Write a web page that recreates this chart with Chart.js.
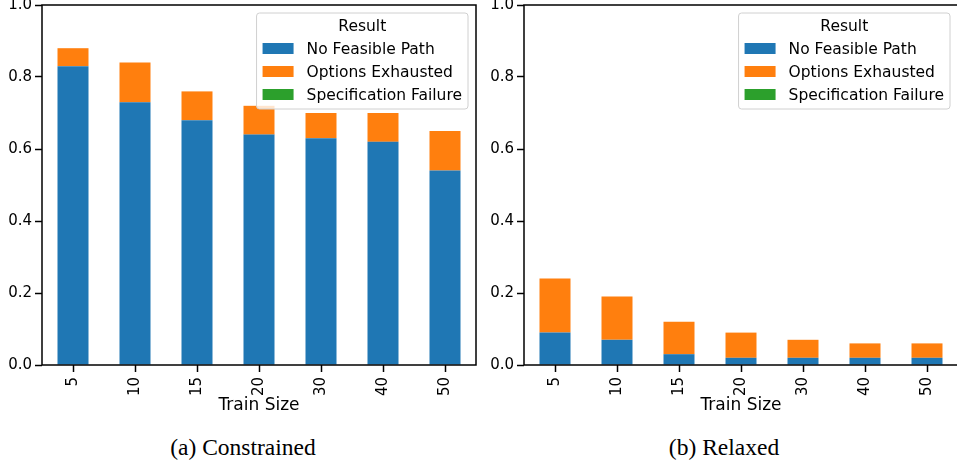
<!DOCTYPE html>
<html>
<head>
<meta charset="utf-8">
<script src="https://cdn.jsdelivr.net/npm/chart.js@4.4.1/dist/chart.umd.min.js"></script>
<style>
  html, body { margin: 0; padding: 0; background: #fff; overflow: hidden; }
  body { width: 957px; height: 463px; position: relative; }
  .panel { position: absolute; top: 0; }
  .caption {
    position: absolute; top: 433px; width: 300px; text-align: center;
    font-family: "Liberation Serif", "Times New Roman", serif; font-size: 23.5px; color: #000;
    line-height: 28px;
  }
</style>
</head>
<body>
<div class="panel" style="left:0;width:480px;height:420px;"><canvas id="constrained"></canvas></div>
<div class="panel" style="left:480px;width:482px;height:420px;"><canvas id="relaxed"></canvas></div>
<div class="caption" style="left:93px;">(a) Constrained</div>
<div class="caption" style="left:574px;">(b) Relaxed</div>
<script>
// Failure breakdown by training-set size
const trainSizes = ['5', '10', '15', '20', '30', '40', '50'];
const resultLabels = ['No Feasible Path', 'Options Exhausted', 'Specification Failure'];
const resultColors = ['#1f77b4', '#ff7f0e', '#2ca02c'];
const yTicks = [0.0, 0.2, 0.4, 0.6, 0.8, 1.0];

const constrainedNoPath    = [0.83, 0.73, 0.68, 0.64, 0.63, 0.62, 0.54];
const constrainedExhausted = [0.05, 0.11, 0.08, 0.08, 0.07, 0.08, 0.11];
const constrainedSpecFail  = [0, 0, 0, 0, 0, 0, 0];

const relaxedNoPath    = [0.09, 0.07, 0.03, 0.02, 0.02, 0.02, 0.02];
const relaxedExhausted = [0.15, 0.12, 0.09, 0.07, 0.05, 0.04, 0.04];
const relaxedSpecFail  = [0, 0, 0, 0, 0, 0, 0];

const FONT = '"DejaVu Sans", "Liberation Sans", sans-serif';

// Box around the plotting area
const frame = {
  id: 'frame',
  afterDatasetsDraw(chart) {
    const { ctx, chartArea: a } = chart;
    ctx.save();
    ctx.strokeStyle = '#000';
    ctx.lineWidth = 1.5;
    ctx.strokeRect(a.left, a.top, a.right - a.left, a.bottom - a.top);
    ctx.restore();
  }
};

// Legend drawn inside the upper-right corner of the plot
const insideLegend = {
  id: 'insideLegend',
  afterDraw(chart) {
    const { ctx, chartArea: a } = chart;
    const sets = chart.data.datasets;
    ctx.save();
    ctx.font = '15.5px ' + FONT;
    const textW = Math.max(...sets.map(d => ctx.measureText(d.label).width));
    const w = 50 + textW + 6;
    const h = 96;
    const x0 = a.right - 8 - w;
    const y0 = a.top + 8;
    ctx.beginPath();
    ctx.roundRect(x0, y0, w, h, 3);
    ctx.fillStyle = 'rgba(255,255,255,0.8)';
    ctx.fill();
    ctx.strokeStyle = '#d0d0d0';
    ctx.lineWidth = 1;
    ctx.stroke();
    ctx.fillStyle = '#000';
    ctx.textBaseline = 'middle';
    ctx.textAlign = 'center';
    ctx.fillText('Result', x0 + w / 2, y0 + 13.5);
    ctx.textAlign = 'left';
    sets.forEach((d, i) => {
      const cy = y0 + 35.5 + i * 23;
      ctx.fillStyle = d.backgroundColor;
      ctx.fillRect(x0 + 6, cy - 5.5, 31, 11);
      ctx.fillStyle = '#000';
      ctx.fillText(d.label, x0 + 50, cy + 1.5);
    });
    ctx.restore();
  }
};

function buildChart(id, series, yAxisWidth, rightPad) {
  return new Chart(document.getElementById(id), {
    type: 'bar',
    data: {
      labels: trainSizes,
      datasets: series.map((vals, i) => ({
        label: resultLabels[i],
        data: vals,
        backgroundColor: resultColors[i],
        borderWidth: 0,
        barPercentage: 0.5,
        categoryPercentage: 1.0
      }))
    },
    options: {
      responsive: true,
      maintainAspectRatio: false,
      animation: false,
      layout: { padding: { top: 5, right: rightPad, left: 0, bottom: 0 } },
      plugins: { legend: { display: false }, tooltip: { enabled: false } },
      scales: {
        x: {
          stacked: true,
          grid: { offset: false, drawOnChartArea: false, drawTicks: true, tickLength: 7, tickWidth: 1.5, tickColor: '#000' },
          border: { display: false },
          ticks: { color: '#000', font: { family: FONT, size: 15 }, minRotation: 90, maxRotation: 90, padding: 5, autoSkip: false },
          title: { display: true, text: 'Train Size', color: '#000', font: { family: FONT, size: 17 }, padding: { top: 0, bottom: 4 } },
          afterFit(s) { s.height = 55; s.paddingLeft = 0; s.paddingRight = 0; }
        },
        y: {
          stacked: true,
          min: 0,
          max: 1,
          afterBuildTicks(s) { s.ticks = yTicks.map(v => ({ value: v })); },
          grid: { drawOnChartArea: false, drawTicks: true, tickLength: 7, tickWidth: 1.5, tickColor: '#000' },
          border: { display: false },
          ticks: { color: '#000', font: { family: FONT, size: 15 }, padding: 3, callback: v => Number(v).toFixed(1) },
          afterFit(s) { s.width = yAxisWidth; s.paddingTop = 0; s.paddingBottom = 0; }
        }
      }
    },
    plugins: [frame, insideLegend]
  });
}

buildChart('constrained', [constrainedNoPath, constrainedExhausted, constrainedSpecFail], 42, 4);
buildChart('relaxed', [relaxedNoPath, relaxedExhausted, relaxedSpecFail], 44, 4);
</script>
</body>
</html>
